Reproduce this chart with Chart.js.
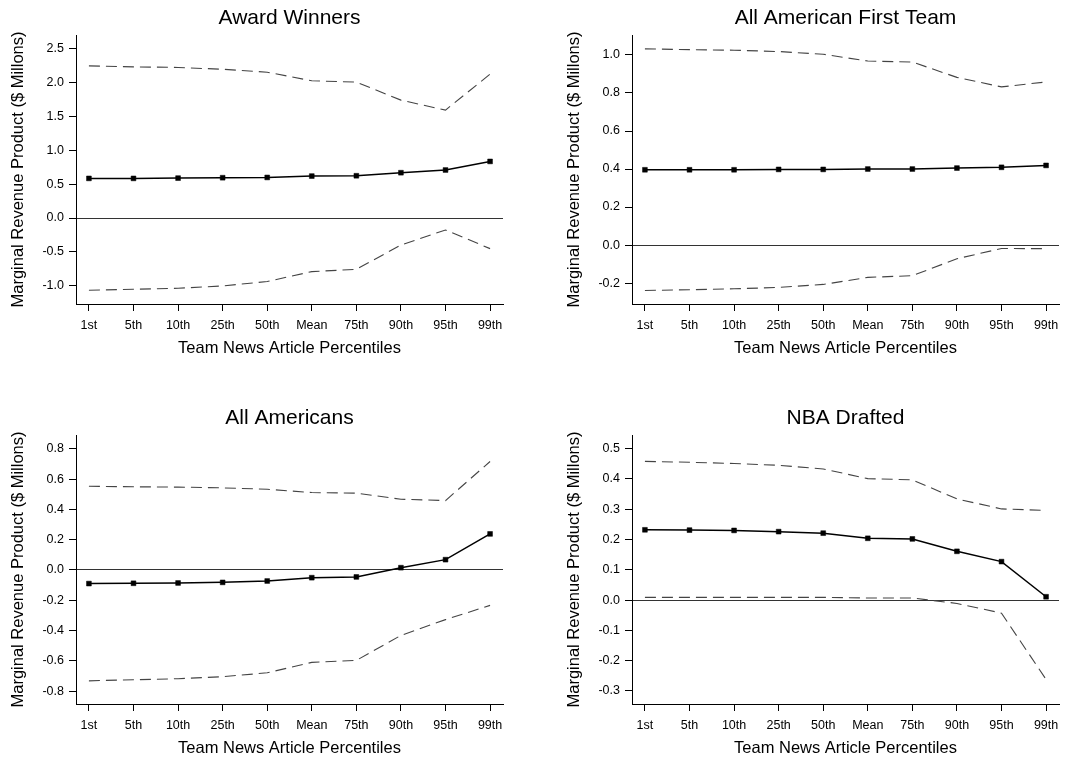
<!DOCTYPE html>
<html>
<head>
<meta charset="utf-8">
<script src="https://cdn.jsdelivr.net/npm/chart.js@4.4.1/dist/chart.umd.min.js"></script>
<style>
  html, body { margin: 0; padding: 0; background: #fff; overflow: hidden; }
  #wrap { position: relative; width: 1081px; height: 759px; }
  canvas { position: absolute; }
</style>
</head>
<body>
<div id="wrap">
  <canvas id="c1" width="525" height="359" style="left:0px;top:0px"></canvas>
  <canvas id="c2" width="525" height="359" style="left:556px;top:0px"></canvas>
  <canvas id="c3" width="525" height="359" style="left:0px;top:400px"></canvas>
  <canvas id="c4" width="525" height="359" style="left:556px;top:400px"></canvas>
</div>
<script>
const percentiles = ["1st", "5th", "10th", "25th", "50th", "Mean", "75th", "90th", "95th", "99th"];

// Award Winners
const awardMid = [0.586, 0.586, 0.59, 0.596, 0.60, 0.62, 0.625, 0.67, 0.71, 0.837];
const awardUpper = [2.25, 2.236, 2.227, 2.20, 2.157, 2.03, 2.01, 1.744, 1.596, 2.128];
const awardLower = [-1.069, -1.054, -1.039, -1.005, -0.94, -0.793, -0.759, -0.399, -0.177, -0.453];
const awardTicks = [-1.0, -0.5, 0, 0.5, 1.0, 1.5, 2.0, 2.5];

// All American First Team
const firstMid = [0.396, 0.396, 0.396, 0.398, 0.398, 0.40, 0.40, 0.405, 0.409, 0.419];
const firstUpper = [1.032, 1.028, 1.025, 1.018, 1.004, 0.968, 0.963, 0.882, 0.832, 0.858];
const firstLower = [-0.239, -0.235, -0.23, -0.223, -0.207, -0.17, -0.161, -0.072, -0.018, -0.019];
const firstTicks = [-0.2, 0, 0.2, 0.4, 0.6, 0.8, 1.0];

// All Americans
const allMid = [-0.09, -0.088, -0.086, -0.082, -0.073, -0.051, -0.046, 0.015, 0.068, 0.238];
const allUpper = [0.553, 0.549, 0.547, 0.542, 0.533, 0.511, 0.507, 0.467, 0.458, 0.716];
const allLower = [-0.732, -0.725, -0.718, -0.705, -0.679, -0.61, -0.597, -0.432, -0.328, -0.234];
const allTicks = [-0.8, -0.6, -0.4, -0.2, 0, 0.2, 0.4, 0.6, 0.8];

// NBA Drafted
const nbaMid = [0.232, 0.231, 0.23, 0.226, 0.221, 0.204, 0.202, 0.161, 0.127, 0.011];
const nbaUpper = [0.458, 0.455, 0.451, 0.445, 0.433, 0.401, 0.397, 0.334, 0.301, 0.296];
const nbaLower = [0.009, 0.009, 0.009, 0.009, 0.009, 0.007, 0.007, -0.011, -0.043, -0.262];
const nbaTicks = [-0.3, -0.2, -0.1, 0, 0.1, 0.2, 0.3, 0.4, 0.5];

Chart.defaults.font.family = '"Liberation Sans", Arial, Helvetica, sans-serif';
Chart.defaults.color = "#000";

function pts(values) {
  return values.map((v, i) => ({ x: i, y: v }));
}

function makePanel(id, title, mid, upper, lower, yTicks, yMin, yMax) {
  const band = (data) => ({
    data: pts(data),
    borderColor: "#444",
    borderWidth: 1.1,
    borderDash: [11, 6],
    pointRadius: 0,
    tension: 0
  });

  return new Chart(document.getElementById(id), {
    type: "line",
    data: {
      datasets: [
        band(upper),
        band(lower),
        {
          data: pts(mid),
          borderColor: "#000",
          borderWidth: 1.5,
          pointStyle: "rect",
          pointRadius: 3.4,
          pointBorderWidth: 0.5,
          pointBackgroundColor: "#000",
          pointBorderColor: "#000",
          tension: 0
        }
      ]
    },
    options: {
      responsive: false,
      animation: false,
      layout: { padding: { right: 22 } },
      plugins: {
        legend: { display: false },
        tooltip: { enabled: false },
        title: {
          display: true,
          text: title,
          fullSize: false,
          color: "#000",
          font: { size: 21, weight: "normal" },
          padding: { top: 6, bottom: 3.8 }
        }
      },
      scales: {
        x: {
          type: "linear",
          min: -0.29,
          max: 9.29,
          afterBuildTicks: (s) => { s.ticks = percentiles.map((_, i) => ({ value: i })); },
          afterFit: (s) => { s.height = 55; },
          ticks: {
            callback: (v) => percentiles[v],
            font: { size: 12.5 },
            color: "#000",
            padding: 7,
            maxRotation: 0,
            autoSkip: false
          },
          grid: { drawOnChartArea: false, drawTicks: true, tickLength: 7, tickColor: "#000" },
          border: { display: true, color: "#000", width: 1 },
          title: {
            display: true,
            text: "Team News Article Percentiles",
            color: "#000",
            font: { size: 16.5 },
            padding: { top: 0, bottom: 1 }
          }
        },
        y: {
          type: "linear",
          min: yMin,
          max: yMax,
          afterBuildTicks: (s) => { s.ticks = yTicks.map((v) => ({ value: v })); },
          afterFit: (s) => { s.width = 76; },
          ticks: {
            callback: (v) => v.toFixed(1),
            font: { size: 12.5 },
            color: "#000",
            padding: 5
          },
          grid: {
            drawOnChartArea: true,
            color: (ctx) => (ctx.tick && ctx.tick.value === 0 ? "#333" : "rgba(0,0,0,0)"),
            lineWidth: 1,
            drawTicks: true,
            tickLength: 7,
            tickColor: "#000"
          },
          border: { display: true, color: "#000", width: 1 },
          title: {
            display: true,
            text: "Marginal Revenue Product ($ Millons)",
            color: "#000",
            font: { size: 16.5 },
            padding: { top: 9, bottom: 0 }
          }
        }
      }
    }
  });
}

makePanel("c1", "Award Winners", awardMid, awardUpper, awardLower, awardTicks, -1.272, 2.707);
makePanel("c2", "All American First Team", firstMid, firstUpper, firstLower, firstTicks, -0.31, 1.105);
makePanel("c3", "All Americans", allMid, allUpper, allLower, allTicks, -0.885, 0.891);
makePanel("c4", "NBA Drafted", nbaMid, nbaUpper, nbaLower, nbaTicks, -0.343, 0.545);
</script>
</body>
</html>
